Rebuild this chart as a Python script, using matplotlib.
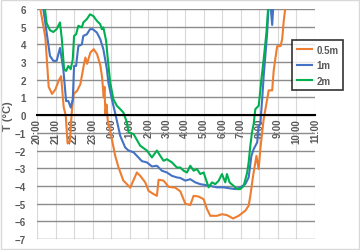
import matplotlib.pyplot as plt
from matplotlib.patches import Rectangle

# hours after 20:00
t_05 = [0.0, 0.18, 0.45, 0.63, 0.81, 0.99, 1.17, 1.3, 1.44, 1.55, 1.65, 1.78, 1.85, 1.9,
        1.98, 2.16, 2.34, 2.52, 2.61, 2.7, 2.88, 3.06, 3.24, 3.42, 3.51, 3.6, 3.64, 3.69,
        3.75, 3.82, 4.04, 4.22, 4.4, 4.66, 4.85, 5.03, 5.39, 5.57, 5.84, 6.02, 6.29, 6.47,
        6.56, 6.83, 7.1, 7.46, 7.73, 8.0, 8.27, 8.45, 8.72, 8.99, 9.17, 9.35, 9.71, 9.98,
        10.25, 10.58, 10.88, 11.24, 11.42, 11.51, 11.66, 11.84, 11.96, 12.05, 12.23, 12.42,
        12.5, 12.69, 12.77, 12.86, 12.96, 13.14, 13.23, 13.31, 13.45]
T_05 = [6.5, 6.0, 4.4, 1.6, 1.2, 1.45, 1.95, 2.2, 0.45, 0.0, -1.6, -1.5, -0.2, 0.45,
        1.2, 1.37, 1.75, 2.8, 3.26, 2.9, 3.54, 3.73, 3.45, 2.8, 2.15, 1.0, 1.6, 0.06,
        0.6, -0.3, -1.36, -2.3, -2.96, -3.7, -3.9, -4.1, -3.24, -3.43, -3.8, -4.28, -4.46, -4.56,
        -3.65, -3.7, -4.05, -4.1, -4.3, -5.0, -5.08, -4.56, -4.6, -4.75, -5.3, -5.69, -5.69, -5.6,
        -5.65, -5.84, -5.69, -5.4, -5.12, -4.56, -3.43, -2.3, -3.05, -1.92, -0.23, 0.9,
        1.4, 1.4, 2.5, 3.2, 3.9, 3.9, 4.3, 5.3, 6.5]

t_1 = [0.25, 0.34, 0.52, 0.7, 0.88, 1.06, 1.24, 1.42, 1.57, 1.69, 1.82, 1.93, 2.0, 2.11,
       2.23, 2.42, 2.5, 2.69, 2.86, 3.01, 3.23, 3.41, 3.58, 3.77, 3.85, 4.04, 4.22, 4.35,
       4.49, 4.76, 4.94, 5.21, 5.39, 5.66, 5.93, 6.2, 6.47, 6.74, 7.01, 7.28, 7.55, 7.73,
       8.0, 8.27, 8.54, 8.81, 9.08, 9.35, 9.71, 10.07, 10.43, 10.7, 10.97, 11.24, 11.42,
       11.57, 11.69, 11.88, 11.96, 12.05, 12.15, 12.23, 12.32, 12.42, 12.5, 12.59, 12.69,
       12.77]
T_1 = [6.8, 6.0, 4.67, 3.35, 3.07, 3.07, 3.8, 2.6, 0.8, 0.8, 0.43, 0.9, 2.78, 2.78,
       3.9, 4.0, 4.48, 4.57, 4.86, 4.86, 4.67, 4.3, 3.73, 2.6, 1.85, 0.9, 0.1, -0.5,
       -1.17, -1.83, -2.0, -2.1, -2.3, -2.6, -2.67, -2.9, -2.86, -3.14, -3.24, -3.43, -3.52, -3.55,
       -3.7, -3.62, -3.8, -3.9, -3.95, -4.0, -4.08, -4.08, -4.14, -4.18, -4.08, -3.9, -3.52,
       -2.3, -1.92, -1.54, -0.6, -0.5, 0.9, 2.2, 3.35, 4.67, 6.3, 6.3, 5.1,
       6.5]

t_2 = [0.3, 0.43, 0.52, 0.7, 0.88, 1.06, 1.24, 1.34, 1.46, 1.57, 1.69, 1.82, 1.93, 2.0,
       2.11, 2.23, 2.42, 2.5, 2.69, 2.86, 3.04, 3.23, 3.41, 3.5, 3.58, 3.73, 3.82, 3.95,
       4.12, 4.31, 4.49, 4.66, 4.85, 4.94, 5.21, 5.57, 5.93, 6.2, 6.47, 6.65, 6.83, 7.01,
       7.28, 7.55, 7.73, 7.91, 8.09, 8.27, 8.45, 8.63, 8.81, 8.99, 9.26, 9.44, 9.62, 9.8,
       9.98, 10.16, 10.25, 10.39, 10.61, 10.79, 10.97, 11.15, 11.34, 11.42, 11.51, 11.6,
       11.69, 11.78, 11.96, 12.02, 12.09, 12.23, 12.38, 12.5]
T_2 = [6.8, 6.0, 5.2, 4.8, 4.7, 4.86, 5.24, 4.3, 2.6, 2.5, 2.78, 2.6, 3.16, 4.48,
       4.57, 5.05, 4.96, 5.24, 5.43, 5.7, 5.6, 5.33, 5.14, 4.86, 4.96, 4.2, 3.16, 1.85,
       0.9, 0.53, 0.34, 0.15, -0.4, -0.98, -1.07, -1.73, -2.0, -2.39, -2.0, -2.3, -2.58, -2.49,
       -2.67, -2.96, -2.96, -3.14, -3.24, -2.86, -3.14, -3.05, -3.33, -3.24, -4.08, -3.8, -3.9, -3.71,
       -3.33, -3.8, -3.33, -3.8, -4.0, -4.18, -4.18, -4.0, -3.24, -2.67, -1.73, -0.98,
       -0.5, 0.34, 0.53, 1.09, 1.85, 3.16, 4.67, 6.5]

xlabels = ['20:00', '21:00', '22:00', '23:00', '0:00', '1:00', '2:00', '3:00',
           '4:00', '5:00', '6:00', '7:00', '8:00', '9:00', '10:00', '11:00']

txt = '#595959'
plt.rcParams['font.family'] = ['Liberation Sans', 'DejaVu Sans']

fig = plt.figure(figsize=(3.6, 2.51), dpi=100)
ax = fig.add_axes([37 / 360, 11 / 251, 278 / 360, 230 / 251])

# move the x axis to y=0 first (this resets tick label settings)
for s in ['left', 'right', 'top']:
    ax.spines[s].set_visible(False)
ax.spines['bottom'].set_position(('data', 0))
ax.spines['bottom'].set_color('black')
ax.spines['bottom'].set_linewidth(1.5)
ax.spines['bottom'].set_zorder(3)

ax.plot(t_05, T_05, color='#ED7D31', lw=1.5, label='0.5m')
ax.plot(t_1, T_1, color='#4472C4', lw=1.5, label='1m')
ax.plot(t_2, T_2, color='#00B050', lw=1.5, label='2m')

ax.set_xlim(0, 15)
ax.set_ylim(-7, 6)
ax.set_xticks(range(16))
ax.set_xticklabels(xlabels, rotation=90, fontsize=7, color=txt, fontweight='bold')
ax.set_yticks(range(-7, 7))
ax.tick_params(axis='y', length=0, pad=8, labelsize=7, labelcolor=txt)
ax.tick_params(axis='x', length=0, pad=2)
for lab in ax.get_yticklabels():
    lab.set_fontweight('bold')

ax.grid(axis='y', color='#8c8c8c', lw=1.0)
ax.grid(axis='x', color='#d9d9d9', lw=0.8)
ax.set_axisbelow(True)

ax.set_ylabel('T (°C)', fontsize=8, color=txt, fontweight='bold')
ax.yaxis.set_label_coords(-24 / 278, (116 - 10) / 230 * -1 + 1)

leg = ax.legend(loc='upper left', bbox_to_anchor=(292 / 360, 1 - 41 / 251),
                bbox_transform=fig.transFigure, borderaxespad=0, fontsize=7,
                frameon=True, fancybox=False, edgecolor='black', handlelength=1.6,
                handletextpad=0.4, labelspacing=0.55, borderpad=0.5)
leg.get_frame().set_linewidth(1.2)
for text in leg.get_texts():
    text.set_color(txt)
    text.set_fontweight('bold')

fig.patches.append(Rectangle((0.003, 0.003), 0.994, 0.994, transform=fig.transFigure,
                             fill=False, edgecolor='#d9d9d9', lw=1))

fig.savefig('out.png', dpi=100)
